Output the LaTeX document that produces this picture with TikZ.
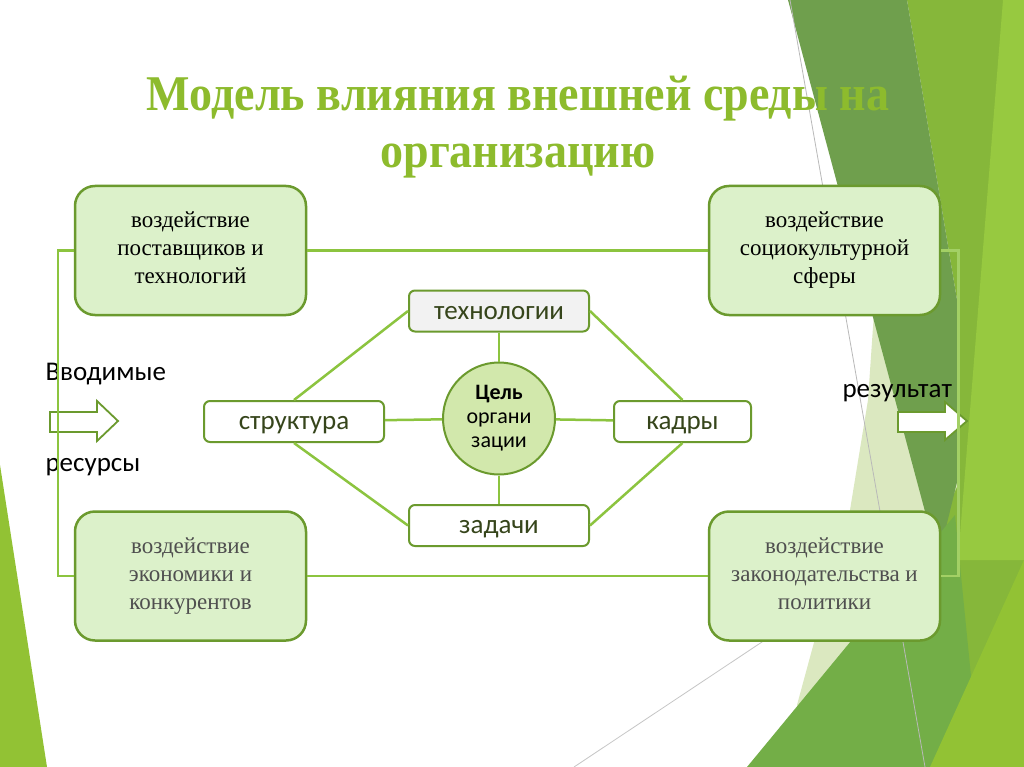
\documentclass[tikz,border=0pt]{standalone}
\usepackage{fontspec}
\setmainfont{Liberation Serif}
\newfontfamily\calibri{Carlito}
\newfontfamily\titlefont[FakeStretch=0.92]{Liberation Serif}
\definecolor{boxline}{HTML}{6B9A2E}
\definecolor{linkgreen}{HTML}{8CC43F}
\definecolor{boxfill}{HTML}{DCF1CA}
\definecolor{circfill}{HTML}{D2E8AC}
\definecolor{techfill}{HTML}{F2F2F2}
\definecolor{titlegreen}{HTML}{8DBB2D}
\definecolor{textdark}{HTML}{36451B}
\definecolor{greytext}{HTML}{4F4F4F}
\definecolor{facetdark}{HTML}{6F9F4D}
\definecolor{facetmid}{HTML}{86B73A}
\definecolor{facetlight}{HTML}{97C940}
\definecolor{facetpale}{HTML}{DBE8C0}
\definecolor{facetgreen}{HTML}{73AE47}
\definecolor{facetbright}{HTML}{92C234}
\begin{document}
\begin{tikzpicture}[x=1pt,y=-1pt,
    outerbox/.style={draw=boxline, line width=2.5pt, fill=boxfill, rounded corners=20pt,
      minimum width=231pt, minimum height=129pt, align=center, font=\fontsize{23}{28}\selectfont},
    innerbox/.style={draw=boxline, line width=2pt, fill=white, rounded corners=6pt,
      minimum height=41pt, text height=16.6pt, text depth=0pt,
      font=\calibri\fontsize{27}{30}\selectfont, text=textdark},
    goal/.style={circle, draw=boxline, line width=2pt, fill=circfill, minimum size=112pt,
      inner sep=0pt, align=center, font=\calibri\fontsize{22}{24}\selectfont},
    link/.style={draw=linkgreen, line width=2.5pt},
    sidetext/.style={font=\calibri\fontsize{27}{30}\selectfont, anchor=base west},
    blockarrow/.style={draw=boxline, line width=1.8pt, fill=white, line join=miter}]
    \useasboundingbox (0,0) rectangle (1024,767);
    \fill[white] (0,0) rectangle (1024,767);
    % facets of the slide
    \fill[facetmid] (907,0) -- (1024,0) -- (1024,767) -- (900,767) -- (945,480) -- (957,300) -- cycle;
    \fill[facetlight] (1003,0) -- (1024,0) -- (1024,560) -- (958,560) -- cycle;
    \fill[facetpale] (880,225) -- (960,480) -- (830,767) -- (797,705) -- (850,510) -- (868,400) -- cycle;
    \fill[facetdark] (788,0) -- (907,0) -- (957,300) -- (960,470) -- (938,560) -- cycle;
    \fill[facetgreen] (747,767) -- (955,515) -- (980,767) -- cycle;
    \fill[facetbright] (930,767) -- (1024,560) -- (1024,767) -- cycle;
    \fill[facetbright] (0,465) -- (47,767) -- (0,767) -- cycle;
    \draw[gray!55, line width=0.8pt] (790,0) -- (925,767);
    \draw[gray!45, line width=0.8pt] (574,767) -- (780,630);
    % title
    \node[text=titlegreen, align=center, font=\titlefont\bfseries\fontsize{50}{57}\selectfont] (title) at (518,127)
      {Модель влияния внешней среды на\\организацию};
    % in and out
    \draw[blockarrow] (50,412) -- (97,412) -- (97,401) -- (118,421) -- (97,441) -- (97,432) -- (50,432) -- cycle;
    \draw[blockarrow] (898,412) -- (945,412) -- (945,402) -- (967,421) -- (945,440) -- (945,432) -- (898,432) -- cycle;
    \node[sidetext] (inputs) at (42,380) {Вводимые};
    \node[sidetext] (resources) at (42,471) {ресурсы};
    \node[sidetext] (result) at (839,397) {результат};
    % outer factors
    \node[outerbox] (suppliers) at (190.5,250.5) {воздействие\\поставщиков и\\технологий\vphantom{р}};
    \node[outerbox] (culture) at (824.5,250.5) {воздействие\\социокультурной\\сферы};
    \node[outerbox, text=greytext] (economy) at (190.5,576) {воздействие\\экономики и\\конкурентов};
    \node[outerbox, text=greytext] (politics) at (824.5,576) {воздействие\\законодательства и\\политики\vphantom{р}};
    \draw[link] (suppliers) -- (culture);
    \draw[link] (economy) -- (politics);
    \draw[link] (suppliers.west) -- ++(-16,0) |- (economy.west);
    \draw[link, draw=linkgreen!80!white] (culture.east) -- ++(17,0) |- (politics.east);
    % inner organisation
    \node[innerbox, fill=techfill, minimum width=180pt] (tech) at (499,311) {технологии};
    \node[innerbox, minimum width=180pt] (struct) at (294,421.5) {структура};
    \node[innerbox, minimum width=137pt] (staff) at (682.5,421.5) {кадры};
    \node[innerbox, minimum width=180pt] (tasks) at (499,525.5) {задачи};
    \node[goal] (aim) at (499,418.5) {\textbf{Цель}\\органи\\зации};
    \draw[link] (tech) -- (aim);
    \draw[link] (aim) -- (tasks);
    \draw[link] (struct) -- (aim);
    \draw[link] (aim) -- (staff);
    \draw[link] (tech.west) -- (struct.north);
    \draw[link] (tech.east) -- (staff.north);
    \draw[link] (struct.south) -- (tasks.west);
    \draw[link] (staff.south) -- (tasks.east);
\end{tikzpicture}
\end{document}
